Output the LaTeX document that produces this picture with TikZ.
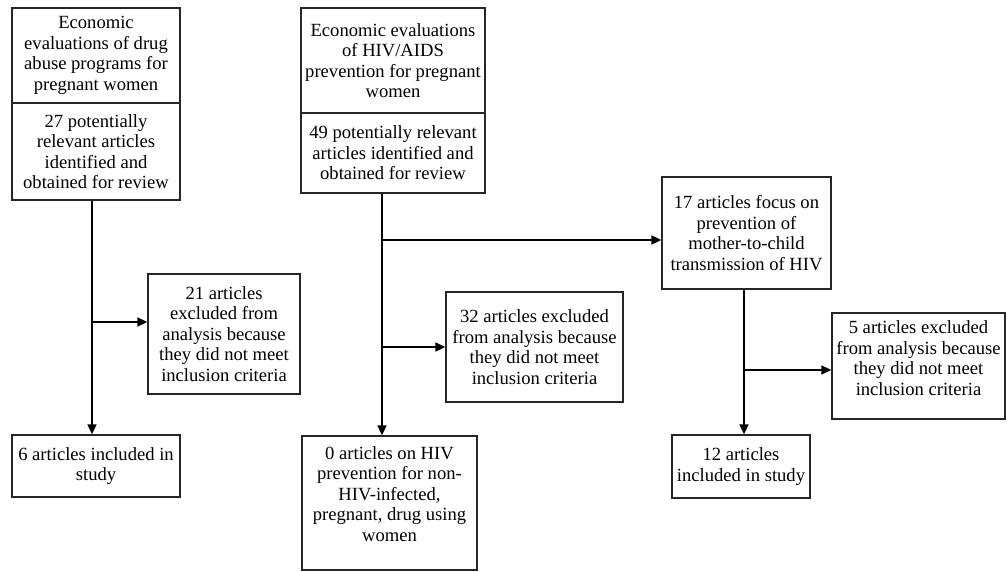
\documentclass[tikz,border=0pt]{standalone}
\usepackage{fontspec}
\setmainfont{Liberation Serif}
\usetikzlibrary{arrows.meta}

\tikzset{
  box/.style={draw=black!85, line width=1.3pt, align=center, inner sep=3pt,
    font=\fontsize{18.6}{20.5}\selectfont},
  flow/.style={line width=1.6pt, -{Triangle[length=10pt,width=9pt]}},
  trunk/.style={line width=1.6pt}
}

\begin{document}
\begin{tikzpicture}[x=1pt, y=-1pt]
			\useasboundingbox (0,0) rectangle (1008,572);

			% Drug abuse column
			\node[box, minimum width=168pt, minimum height=95pt] (titleA) at (96,55.5)
			  {Economic\\evaluations of drug\\abuse programs for\\pregnant women};
			\node[box, minimum width=168pt, minimum height=97pt] (countA) at (96,151.5)
			  {27 potentially\\relevant articles\\identified and\\obtained for review};
			\node[box, minimum width=152pt, minimum height=120pt] (excA) at (224,334)
			  {21 articles\\excluded from\\analysis because\\they did not meet\\inclusion criteria};
			\node[box, minimum width=168pt, minimum height=62pt] (inclA) at (96,466)
			  {6 articles included in\\study};

			% HIV/AIDS column
			\node[box, minimum width=184pt, minimum height=105pt] (titleB) at (393,60.5)
			  {Economic evaluations\\of HIV/AIDS\\prevention for pregnant\\women};
			\node[box, minimum width=184pt, minimum height=80pt] (countB) at (393,153)
			  {49 potentially relevant\\articles identified and\\obtained for review};
			\node[box, minimum width=177pt, minimum height=110pt] (excB) at (534.5,347)
			  {32 articles excluded\\from analysis because\\they did not meet\\inclusion criteria};
			\node[box, minimum width=175pt, minimum height=134pt] (zeroB) at (389.5,503)
			  {0 articles on HIV\\prevention for non-\\HIV-infected,\\pregnant, drug using\\women\\[-2pt]};

			% Mother-to-child column
			\node[box, minimum width=169pt, minimum height=112pt] (mtct) at (746.5,233)
			  {17 articles focus on\\prevention of\\mother-to-child\\transmission of HIV};
			\node[box, minimum width=173pt, minimum height=106pt] (excC) at (918.5,366)
			  {5 articles excluded\\from analysis because\\they did not meet\\inclusion criteria\\[-5pt]};
			\node[box, minimum width=138pt, minimum height=63pt] (inclC) at (741,466.5)
			  {12 articles\\included in study};

			% Branch points
			\coordinate (jA) at (92,322);
			\coordinate (jB) at (382,240);
			\coordinate (kB) at (382,347);
			\coordinate (jC) at (744,370);

			% Connectors
			\draw[flow] (countA.south -| jA) -- (inclA.north -| jA);
			\draw[flow] (jA) -- (excA.west |- jA);
			\draw[flow] (countB.south -| jB) -- (zeroB.north -| jB);
			\draw[flow] (jB) -- (mtct.west |- jB);
			\draw[flow] (kB) -- (excB.west |- kB);
			\draw[flow] (mtct.south -| jC) -- (inclC.north -| jC);
			\draw[flow] (jC) -- (excC.west |- jC);
		\end{tikzpicture}
\end{document}
